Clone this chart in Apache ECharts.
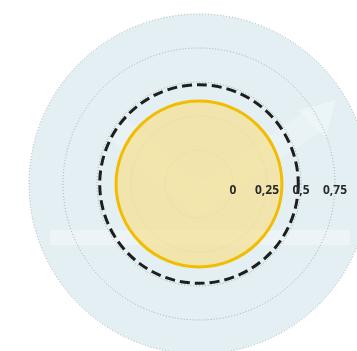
<!DOCTYPE html>
<html>
<head>
<meta charset="utf-8">
<script src="https://cdn.jsdelivr.net/npm/echarts@6/dist/echarts.min.js"></script>
<style>
html,body{margin:0;padding:0;background:#fff;}
#chart{width:357px;height:351px;}
</style>
</head>
<body>
<div id="chart"></div>
<script>
// Radial scale
var radialMin = -0.25;
var radialMax = 1;
var radialStep = 0.25;
var tickValues = [0, 0.25, 0.5, 0.75];
var tickLabels = ['0', '0,25', '0,5', '0,75'];

// Series values
var seriesNames = ['Valeur', 'Objectif'];
var seriesValues = [0.36, 0.48];

var chart = echarts.init(document.getElementById('chart'), null, {renderer: 'canvas'});

function circleItem(fill, stroke, lineWidth, dash) {
  return function (params, api) {
    var cs = params.coordSys;
    var p = api.coord([api.value(0), 0]);
    var r = Math.sqrt((p[0] - cs.cx) * (p[0] - cs.cx) + (p[1] - cs.cy) * (p[1] - cs.cy));
    return {
      type: 'circle',
      shape: {cx: cs.cx, cy: cs.cy, r: r},
      style: {fill: fill, stroke: stroke, lineWidth: lineWidth, lineDash: dash}
    };
  };
}

var center = [199, 184];
var radius = 170;

function hiddenAngle(i) {
  return {polarIndex: i, type: 'value', min: 0, max: 360, startAngle: 0, show: false};
}
function baseRadius(i, z) {
  return {
    polarIndex: i, type: 'value', min: radialMin, max: radialMax, interval: radialStep,
    z: z,
    axisLine: {show: false},
    axisTick: {show: false},
    axisLabel: {show: false},
    splitLine: {show: false},
    splitArea: {show: false}
  };
}

var rBg = baseRadius(0, 0);
rBg.splitArea = {show: true, areaStyle: {color: ['#e3eff3']}};
var rLines = baseRadius(1, 2);
rLines.splitLine = {show: true, lineStyle: {color: '#a3acaf', width: 1, type: [1, 2]}};
var rLabels = baseRadius(2, 20);
rLabels.axisLabel = {
  show: true,
  margin: -13,
  color: '#2a2a2a',
  fontSize: 12,
  fontWeight: 'bold',
  fontFamily: 'Open Sans',
  formatter: function (v) {
    for (var i = 0; i < tickValues.length; i++) {
      if (Math.abs(tickValues[i] - v) < 1e-9) return tickLabels[i];
    }
    return '';
  }
};

chart.setOption({
  animation: false,
  polar: [
    {center: center, radius: radius},
    {center: center, radius: radius},
    {center: center, radius: radius}
  ],
  angleAxis: [hiddenAngle(0), hiddenAngle(1), hiddenAngle(2)],
  radiusAxis: [rBg, rLines, rLabels],
  graphic: [
    {
      type: 'rect', z: 1, silent: true,
      shape: {x: 50, y: 230, width: 300, height: 15},
      style: {fill: 'rgba(255,255,255,0.35)'}
    },
    {
      type: 'polyline', z: 1, silent: true,
      shape: {points: [[118, 128], [198, 200], [315, 120]]},
      style: {stroke: 'rgba(255,255,255,0.22)', lineWidth: 26, fill: 'none'}
    },
    {
      type: 'polygon', z: 1, silent: true,
      shape: {points: [[298, 110], [336, 100], [326, 138]]},
      style: {fill: 'rgba(255,255,255,0.3)'}
    }
  ],
  series: [
    {
      name: seriesNames[0], type: 'custom', coordinateSystem: 'polar', polarIndex: 0,
      data: [[seriesValues[0], 0]],
      renderItem: circleItem('rgba(246,225,145,0.72)', '#f2bd00', 3, null),
      z: 3
    },
    {
      name: seriesNames[1], type: 'custom', coordinateSystem: 'polar', polarIndex: 0,
      data: [[seriesValues[1], 0]],
      renderItem: circleItem('none', '#1e1e1e', 3, [10, 5]),
      z: 4
    }
  ]
});
</script>
</body>
</html>
